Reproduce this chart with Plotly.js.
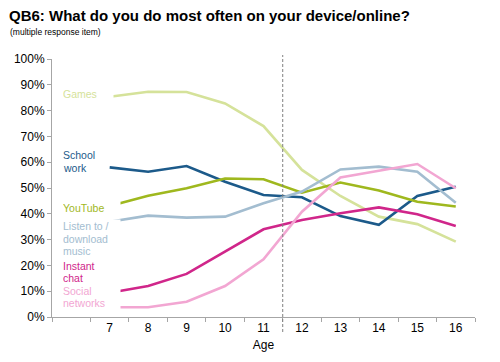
<!DOCTYPE html>
<html>
<head>
<meta charset="utf-8">
<script src="https://cdn.plot.ly/plotly-3.0.1.min.js"></script>
<style>
html,body{margin:0;padding:0;background:#fff;}
#chart{width:500px;height:362px;}
</style>
</head>
<body>
<div id="chart"></div>
<script>
var ages = [7, 8, 9, 10, 11, 12, 13, 14, 15, 16];
var tickLabels = ["7", "8", "9", "10", "11", "12", "13", "14", "15", "16"];
var boundaries = [5.5, 6.5, 7.5, 8.5, 9.5, 10.5, 11.5, 12.5, 13.5, 14.5, 15.5, 16.5];
var yTicks = [0, 10, 20, 30, 40, 50, 60, 70, 80, 90, 100];
var yTickLabels = ["0%", "10%", "20%", "30%", "40%", "50%", "60%", "70%", "80%", "90%", "100%"];

var games = [85.4, 87.3, 87.2, 82.8, 74.0, 57.0, 46.9, 38.9, 36.0, 29.2];
var schoolWork = [58.0, 56.3, 58.5, 52.4, 47.3, 46.4, 39.1, 35.7, 46.9, 50.5];
var youTube = [43.0, 47.0, 49.9, 53.7, 53.4, 48.2, 52.1, 49.0, 44.7, 42.8];
var music = [36.9, 39.3, 38.5, 38.9, 44.1, 48.6, 57.2, 58.3, 56.3, 44.3];
var instantChat = [9.4, 12.0, 16.7, 25.3, 34.0, 37.6, 40.2, 42.5, 39.8, 35.3];
var socialNetworks = [3.8, 3.8, 5.9, 12.0, 22.4, 40.8, 54.1, 56.7, 59.3, 49.9];

var seriesLabelLines = [["Games"], ["School", "work"], ["YouTube"], ["Listen to&nbsp;&#47;", "download", "music"], ["Instant", "chat"], ["Social", "networks"]];
var seriesData = [games, schoolWork, youTube, music, instantChat, socialNetworks];
var seriesColors = ["#d5e29a", "#1c5a8a", "#9fb81e", "#a3bdd0", "#d0268a", "#f2a6d2"];
// pixel rows (from top) of the label lines, and white label box widths
var labelRows = [[94], [155, 168], [208], [226, 239, 251], [266, 278], [291, 303]];
var labelBoxW = [50, 45, 57, 57, 45, 57];

var FONT = "Arial, 'Liberation Sans', sans-serif";
var PLOT_TOP = 59, PLOT_H = 258, PLOT_L = 52, PLOT_W = 423;

var traces = seriesData.map(function (vals, i) {
  return {
    x: ages, y: vals, type: "scatter", mode: "lines",
    line: {color: seriesColors[i], width: 2.6},
    hoverinfo: "skip", showlegend: false, xaxis: "x", yaxis: "y"
  };
});
traces.push({x: [ages[0]], y: [null], type: "scatter", mode: "lines", xaxis: "x2", yaxis: "y", showlegend: false, hoverinfo: "skip"});

var annotations = [];
seriesLabelLines.forEach(function (lines, i) {
  lines.forEach(function (txt, j) {
    annotations.push({
      text: txt, xref: "paper", x: 10 / PLOT_W, xanchor: "left",
      yref: "paper", y: (PLOT_TOP + PLOT_H - labelRows[i][j]) / PLOT_H, yanchor: "middle", align: "left",
      showarrow: false, borderpad: 0, bgcolor: "#ffffff", width: labelBoxW[i], height: 12,
      font: {family: FONT, size: 10.5, color: seriesColors[i]}
    });
  });
});
annotations.push({
  text: "(multiple response item)", xref: "paper", x: (9 - PLOT_L) / PLOT_W, xanchor: "left",
  yref: "paper", y: (PLOT_TOP + PLOT_H - 32) / PLOT_H, yanchor: "middle", showarrow: false, borderpad: 0,
  font: {family: FONT, size: 8.5, color: "#000"}
});

var layout = {
  width: 500, height: 362,
  margin: {l: PLOT_L, r: 25, t: PLOT_TOP, b: 45},
  paper_bgcolor: "#fff", plot_bgcolor: "#fff",
  font: {family: FONT, size: 12, color: "#000"},
  title: {
    text: "<b>QB6: What do you do most often on your device/online?</b>",
    xref: "container", x: 9 / 500, xanchor: "left",
    yref: "container", y: 1 - 16 / 362, yanchor: "middle",
    font: {family: FONT, size: 15, color: "#000"}
  },
  xaxis: {
    range: [5.5, 16.5], tickvals: ages, ticktext: tickLabels,
    showgrid: false, zeroline: false, showline: true, linecolor: "#a6a6a6", linewidth: 1,
    ticks: "", tickfont: {family: FONT, size: 12, color: "#000"},
    title: {text: "Age", font: {family: FONT, size: 12, color: "#000"}, standoff: 6},
    fixedrange: true
  },
  xaxis2: {
    overlaying: "x", anchor: "y", side: "bottom",
    range: [5.5, 16.5], tickvals: boundaries, showticklabels: false,
    ticks: "outside", ticklen: 4, tickcolor: "#a6a6a6", tickwidth: 1,
    showgrid: false, zeroline: false, showline: false, fixedrange: true
  },
  yaxis: {
    range: [0, 100], tickvals: yTicks, ticktext: yTickLabels,
    showgrid: false, zeroline: false, showline: true, linecolor: "#a6a6a6", linewidth: 1,
    ticks: "outside", ticklen: 4, tickcolor: "#a6a6a6",
    tickfont: {family: FONT, size: 12, color: "#000"}, fixedrange: true
  },
  shapes: [{
    type: "line", xref: "x", x0: 11.5, x1: 11.5,
    yref: "paper", y0: -15 / PLOT_H, y1: 1 + 4 / PLOT_H,
    line: {color: "#7f7f7f", width: 1, dash: "3px,2px"}
  }],
  annotations: annotations
};

Plotly.newPlot("chart", traces, layout, {displayModeBar: false, staticPlot: true});
</script>
</body>
</html>
